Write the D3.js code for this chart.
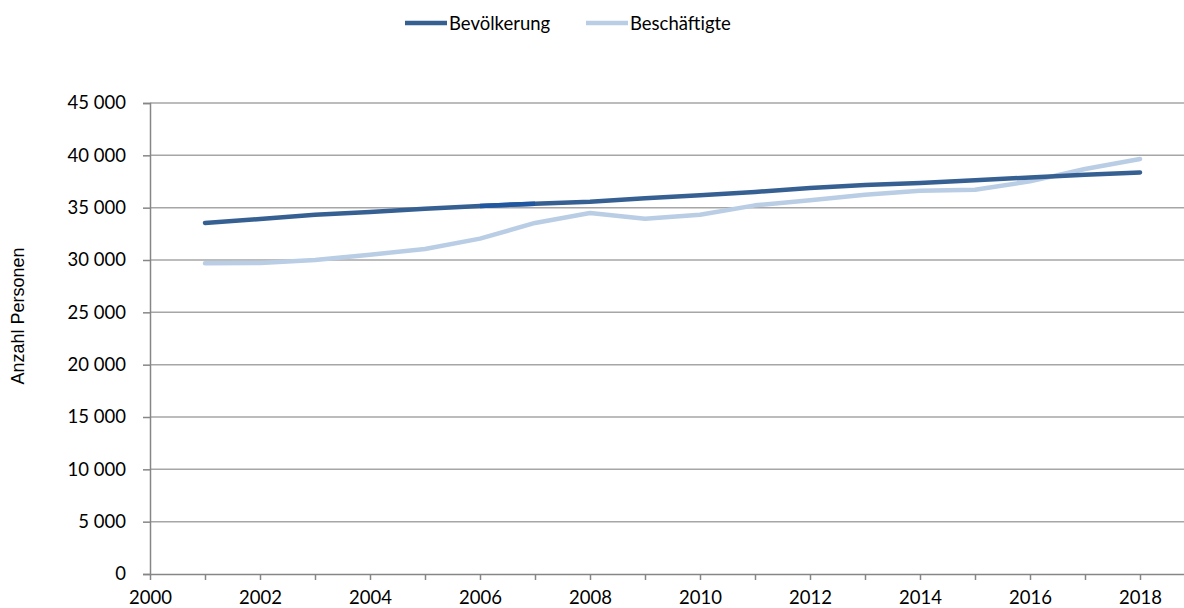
<!DOCTYPE html>
<html lang='de'>
  <head>
    <meta charset='utf-8'>
    <style type='text/css'>
      body {margin: 0; background-color: #fff;}
      #chart {width: 1184px; height: 608px;}
      .tick text {font-family: Lato, "Open Sans", sans-serif; font-size: 18.5px; fill: #000;}
    </style>
  </head>
  <body>
    <div id='chart'><svg width='1184' height='608'></svg></div>

    <script src='https://d3js.org/d3.v7.min.js'></script>
    <script type='text/javascript'>
        // data
        var years = [2001, 2002, 2003, 2004, 2005, 2006, 2007, 2008, 2009,
                     2010, 2011, 2012, 2013, 2014, 2015, 2016, 2017, 2018];
        var bevoelkerung = [33540, 33920, 34330, 34590, 34900, 35160, 35370, 35570, 35890,
                            36180, 36500, 36880, 37170, 37360, 37610, 37890, 38150, 38370];
        var beschaeftigte = [29680, 29710, 30000, 30510, 31050, 32040, 33540, 34490, 33950,
                             34330, 35220, 35700, 36240, 36620, 36720, 37510, 38700, 39650];
        var seriesNames = ["Bevölkerung", "Beschäftigte"];
        var yTicks = [0, 5000, 10000, 15000, 20000, 25000, 30000, 35000, 40000, 45000];
        var xLabels = [2000, 2002, 2004, 2006, 2008, 2010, 2012, 2014, 2016, 2018];

        var colors = ["#376092", "#b9cde5"];

        var svg = d3.select("#chart svg");
        var margin = {top: 103, left: 150, bottom: 34};
        var plotH = 608 - margin.top - margin.bottom;

        // 55 px per year, plot runs off the right edge like the original
        var x = d3.scaleLinear().domain([2000, 2000 + 1034 / 55]).range([margin.left, 1184]);
        var y = d3.scaleLinear().domain([0, 45000]).range([margin.top + plotH, margin.top]);

        var fmt = function(d) { return d3.format(",")(d).replace(/,/g, " "); };

        // horizontal gridlines
        svg.append("g").selectAll("line").data(yTicks.filter(function(d) { return d > 0; }))
          .enter().append("line")
            .attr("x1", margin.left).attr("x2", 1184)
            .attr("y1", function(d) { return y(d); })
            .attr("y2", function(d) { return y(d); })
            .style("stroke", "#a6a6a6")
            .style("stroke-width", 1.5);

        // y axis
        var yAxis = svg.append("g")
            .attr("transform", "translate(" + margin.left + ",0)")
            .call(d3.axisLeft(y).tickValues(yTicks).tickFormat(fmt).tickSize(7).tickPadding(17));
        yAxis.select(".domain").style("stroke", "#868686").style("stroke-width", 1.5);
        yAxis.selectAll(".tick line").style("stroke", "#868686").style("stroke-width", 1.5);

        // x axis: minor tick every year, labels every 2 years
        var allYears = d3.range(2000, 2019);
        var xAxis = svg.append("g")
            .attr("transform", "translate(0," + y(0) + ")")
            .call(d3.axisBottom(x).tickValues(allYears)
              .tickFormat(function(d) { return xLabels.indexOf(d) >= 0 ? d : ""; })
              .tickSize(6).tickPadding(11).tickSizeOuter(0));
        xAxis.select(".domain").style("stroke", "#868686").style("stroke-width", 1.5);
        xAxis.selectAll(".tick line").style("stroke", "#868686").style("stroke-width", 1.5);

        // lines
        var line = d3.line()
            .x(function(d, i) { return x(years[i]); })
            .y(function(d) { return y(d); });

        [beschaeftigte, bevoelkerung].forEach(function(s) {
          var idx = s === bevoelkerung ? 0 : 1;
          svg.append("path")
              .datum(s)
              .attr("d", line)
              .style("fill", "none")
              .style("stroke", colors[idx])
              .style("stroke-width", 4.5)
              .style("stroke-linejoin", "round")
              .style("stroke-linecap", "round");
        });

        // small brighter segment of the Bevölkerung line (2006-2007) seen in the original
        svg.append("line")
            .attr("x1", x(years[5])).attr("x2", x(years[6]))
            .attr("y1", y(bevoelkerung[5])).attr("y2", y(bevoelkerung[6]))
            .style("stroke", "#1f57a0")
            .style("stroke-width", 4.5);

        // y title
        svg.append("text")
            .attr("transform", "translate(24,316) rotate(-90)")
            .style("text-anchor", "middle")
            .style("font-family", "'Liberation Sans', Arial, sans-serif")
            .style("font-size", "18px")
            .text("Anzahl Personen");

        // legend
        var legendX = [405, 586];
        var legend = svg.append("g").selectAll("g").data(seriesNames)
          .enter().append("g")
            .attr("transform", function(d, i) { return "translate(" + legendX[i] + ",23)"; });
        legend.append("line")
            .attr("x1", 0).attr("x2", 42)
            .style("stroke", function(d, i) { return colors[i]; })
            .style("stroke-width", 4.5);
        legend.append("text")
            .attr("x", 44)
            .attr("y", 6.5)
            .style("font-family", "Lato, 'Open Sans', sans-serif")
            .style("font-size", "18.5px")
            .text(function(d) { return d; });
    </script>
  </body>
</html>
